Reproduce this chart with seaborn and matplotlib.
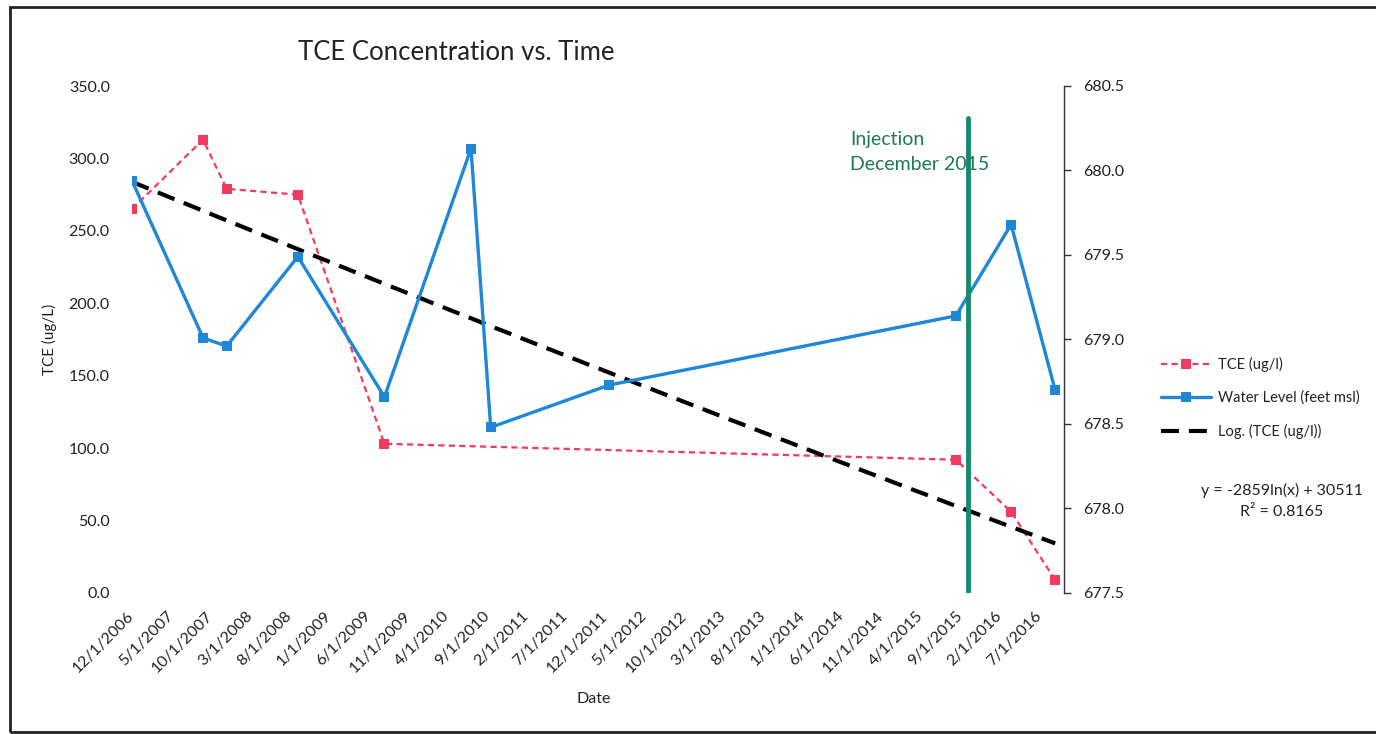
import pandas as pd
import numpy as np
import matplotlib.pyplot as plt
import seaborn as sns
from matplotlib.lines import Line2D
from matplotlib.patches import Rectangle

# values
tce_dates = ['12/1/2006', '9/1/2007', '12/1/2007', '9/1/2008', '8/1/2009',
             '8/15/2015', '3/15/2016', '9/1/2016']
tce_values = [265, 313, 279, 275, 103, 92, 56, 9]

wl_dates = ['12/1/2006', '9/1/2007', '12/1/2007', '9/1/2008', '8/1/2009', '7/1/2010',
            '9/15/2010', '12/15/2011', '8/15/2015', '3/15/2016', '9/1/2016']
wl_values = [679.94, 679.01, 678.96, 679.49, 678.66, 680.13,
             678.48, 678.73, 679.14, 679.68, 678.70]

tick_labels = ['12/1/2006', '5/1/2007', '10/1/2007', '3/1/2008', '8/1/2008', '1/1/2009',
               '6/1/2009', '11/1/2009', '4/1/2010', '9/1/2010', '2/1/2011', '7/1/2011',
               '12/1/2011', '5/1/2012', '10/1/2012', '3/1/2013', '8/1/2013', '1/1/2014',
               '6/1/2014', '11/1/2014', '4/1/2015', '9/1/2015', '2/1/2016', '7/1/2016']
tce_ticks = [0, 50, 100, 150, 200, 250, 300, 350]
wl_ticks = [677.5, 678.0, 678.5, 679.0, 679.5, 680.0, 680.5]

injection_date = '10/1/2015'
trend_slope = -2859
trend_intercept = 30511
trend_r2 = 0.8165

sns.set_style('white')
plt.rcParams['font.family'] = ['Lato', 'DejaVu Sans']
txt = '#222222'

fmt = '%m/%d/%Y'
tce = pd.DataFrame({'Date': pd.to_datetime(tce_dates, format=fmt), 'TCE': tce_values})
wl = pd.DataFrame({'Date': pd.to_datetime(wl_dates, format=fmt), 'WL': wl_values})

# Excel log trendline, x is the Excel date serial
trend = pd.DataFrame({'Date': pd.date_range(tce.Date.min(), tce.Date.max(), periods=200)})
serial = (trend['Date'] - pd.Timestamp('1899-12-30')).dt.days.to_numpy()
trend['TCE'] = trend_slope * np.log(serial) + trend_intercept

fig = plt.figure(figsize=(13.76, 7.34), dpi=100)
ax = fig.add_axes([132 / 1376, 1 - 593 / 734, 932 / 1376, 507 / 734])
ax2 = ax.twinx()

red = '#f23a5e'
blue = '#1f87d6'
green = '#16896a'

sns.lineplot(data=tce, x='Date', y='TCE', ax=ax, color=red, lw=1.6,
             linestyle=(0, (2.8, 1.9)), marker='s', markersize=7, markeredgewidth=0)
sns.lineplot(data=trend, x='Date', y='TCE', ax=ax, color='black', lw=3,
             linestyle=(0, (4.3, 2.4)))
sns.lineplot(data=wl, x='Date', y='WL', ax=ax2, color=blue, lw=2.4,
             marker='s', markersize=7, markeredgewidth=0)
ax2.axvline(pd.to_datetime(injection_date, format=fmt), ymin=0, ymax=0.937,
            color=green, lw=3.5)

ax.set_xlim(pd.Timestamp('2006-12-01'), pd.Timestamp('2016-10-05'))
ax.set_ylim(0, 350)
ax2.set_ylim(677.5, 680.5)

ax.set_xticks(pd.to_datetime(tick_labels, format=fmt))
ax.set_xticklabels(tick_labels, rotation=45, ha='right', va='center',
                   rotation_mode='anchor', fontsize=11.5, color=txt)
ax.tick_params(axis='x', length=0, pad=15)

ax.set_yticks(tce_ticks)
ax.set_yticklabels([f'{v:.1f}' for v in tce_ticks], fontsize=11.5, color=txt)
ax.tick_params(axis='y', length=0, pad=16)

ax2.set_yticks(wl_ticks)
ax2.set_yticklabels([f'{v:.1f}' for v in wl_ticks], fontsize=11.5, color=txt)
ax2.tick_params(axis='y', direction='out', length=5, width=1, color='#333333', pad=9)

for a in (ax, ax2):
    for s in a.spines.values():
        s.set_visible(False)
ax2.spines['right'].set_visible(True)
ax2.spines['right'].set_color('#333333')
ax2.spines['right'].set_linewidth(1)

ax.set_ylabel('TCE (ug/L)', fontsize=11, color=txt)
ax.yaxis.set_label_coords(-0.08, 0.5)
ax2.set_ylabel('')
ax.set_xlabel('Date', fontsize=11.5, color=txt)
ax.xaxis.set_label_coords(0.495, -0.195)

fig.text(298 / 1376, 1 - 52 / 734, 'TCE Concentration vs. Time',
         ha='left', va='center', fontsize=18.5, color=txt)
fig.text(850 / 1376, 1 - 152 / 734, 'Injection\nDecember 2015', ha='left', va='center',
         fontsize=14, color='#1d7a52', linespacing=1.6)

handles = [
    Line2D([], [], color=red, lw=1.6, linestyle=(0, (2.8, 1.9)), marker='s',
           markersize=7, markeredgewidth=0),
    Line2D([], [], color=blue, lw=2.4, marker='s', markersize=7, markeredgewidth=0),
    Line2D([], [], color='black', lw=3, linestyle=(0, (4.3, 2.4))),
]
fig.legend(handles, ['TCE (ug/l)', 'Water Level (feet msl)', 'Log. (TCE (ug/l))'],
           loc='center left', bbox_to_anchor=(1148 / 1376, 1 - 398 / 734),
           frameon=False, fontsize=10.5, handlelength=3.4, labelspacing=1.3,
           handletextpad=0.5, labelcolor=txt)

fig.text(1282 / 1376, 1 - 490 / 734, f'y = {trend_slope}ln(x) + {trend_intercept}',
         ha='center', va='center', fontsize=11.5, color=txt)
fig.text(1282 / 1376, 1 - 512 / 734, f'R² = {trend_r2}',
         ha='center', va='center', fontsize=11.5, color=txt)

fig.patches.append(Rectangle((10 / 1376, 2 / 734), 1.0, 1 - 9 / 734, transform=fig.transFigure,
                             fill=False, lw=2, ec='#222222'))

fig.savefig('out.png', dpi=100)
